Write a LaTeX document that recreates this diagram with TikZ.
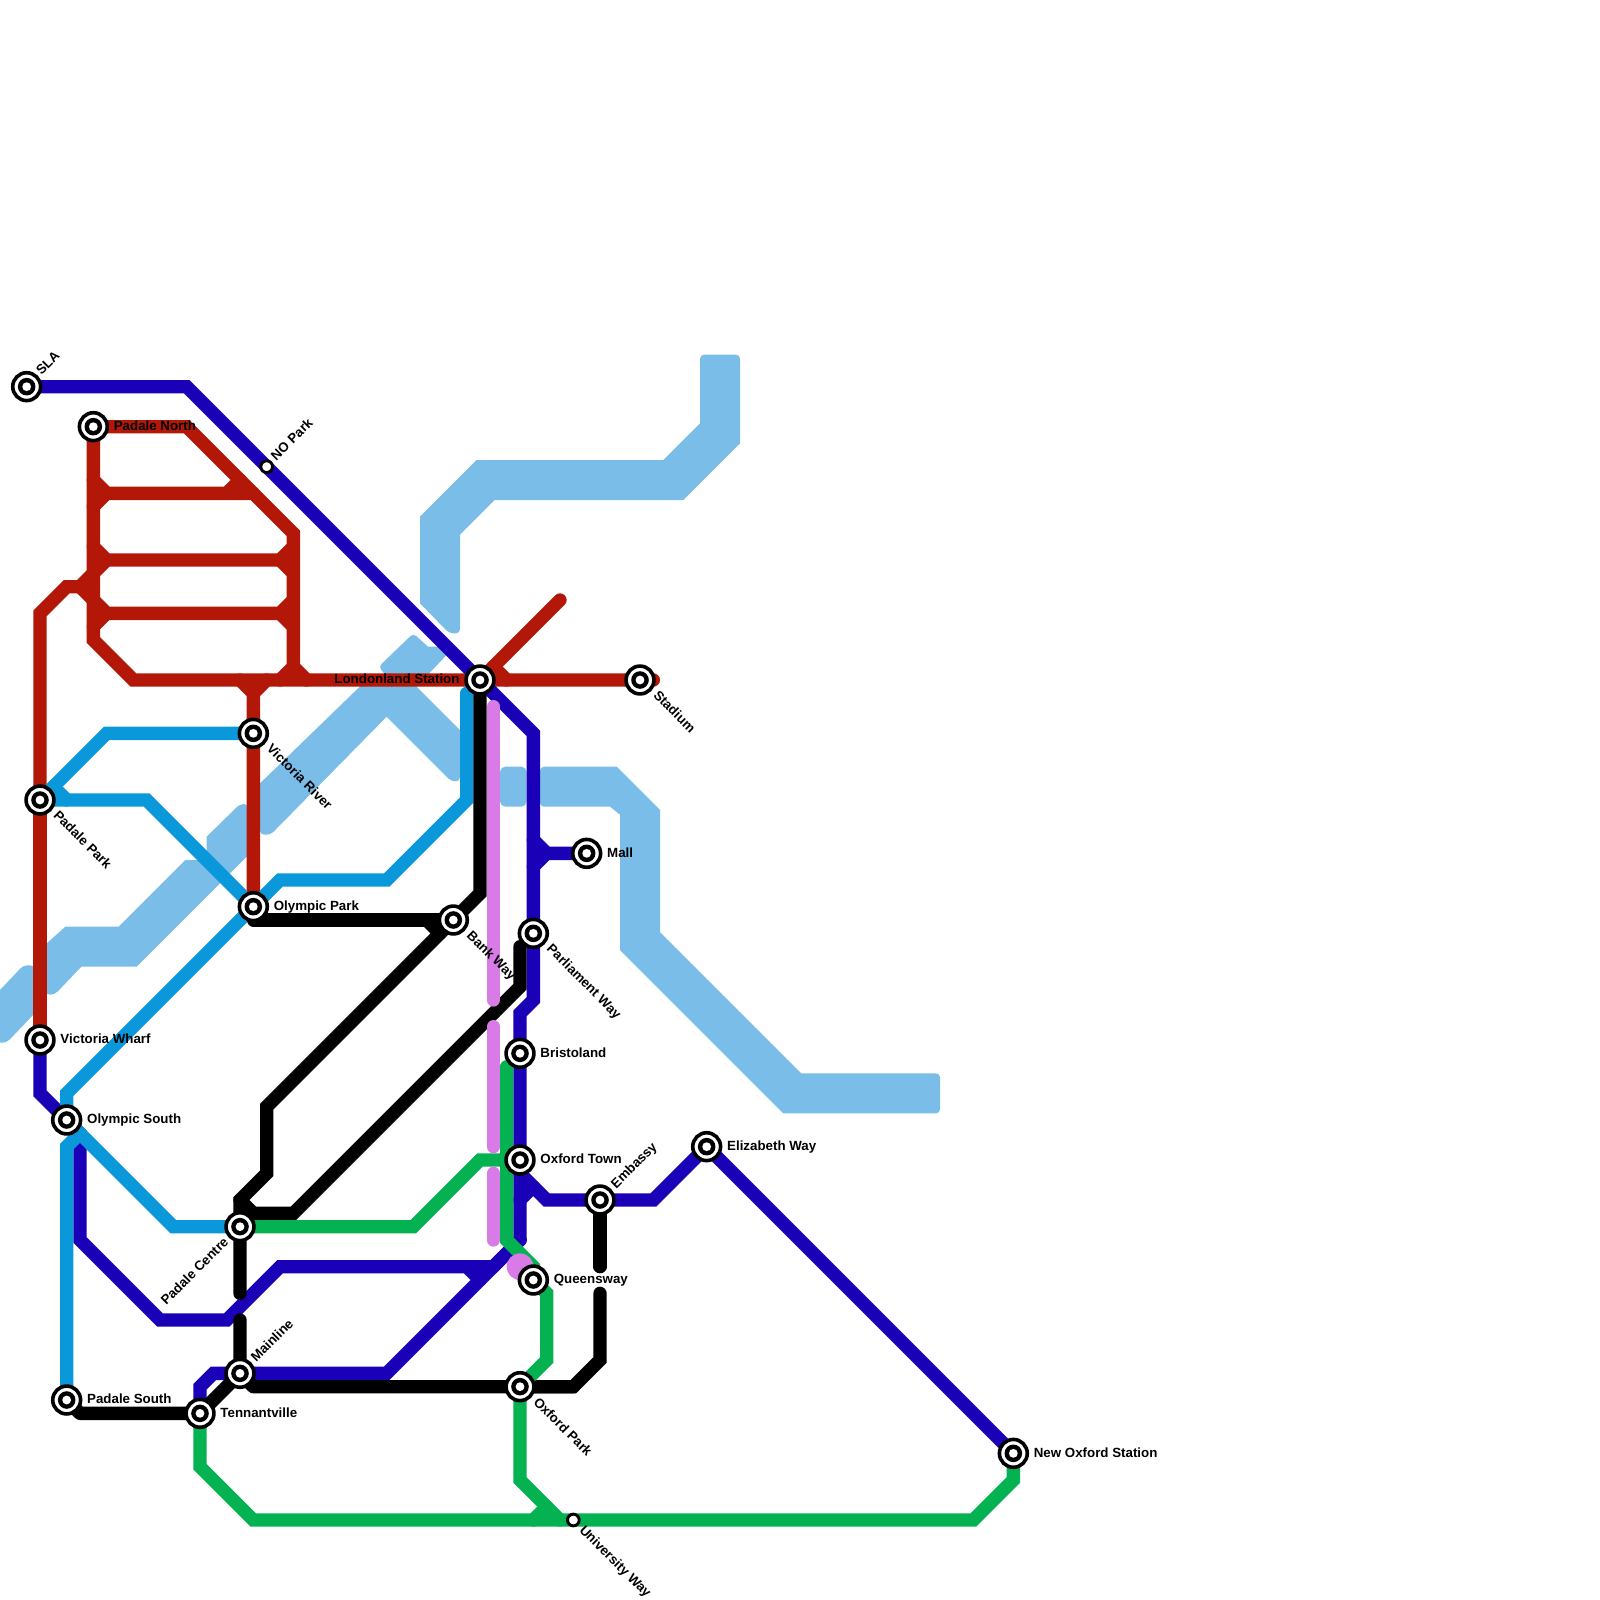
\documentclass[tikz,border=0pt]{standalone}
\usepackage{fontspec}
\setmainfont{Liberation Sans}
\usepackage{xcolor}
\usetikzlibrary{positioning, calc, backgrounds}
\definecolor{mred}{HTML}{B21707}
\definecolor{mindigo}{HTML}{1A00B6}
\definecolor{mcyan}{HTML}{0A98DA}
\definecolor{mgreen}{HTML}{05B252}
\definecolor{mpink}{HTML}{D97BE6}
\definecolor{mriver}{HTML}{7ABDE9}
\tikzset{
  stn/.style={circle, draw=black, fill=white, line width=0.081cm, minimum size=0.627cm, inner sep=0pt,
              path picture={\fill[black] (path picture bounding box.center) circle (0.66);
                            \fill[white] (path picture bounding box.center) circle (0.33);}},
  stnsmall/.style={circle, draw=black, fill=white, line width=0.066cm, minimum size=0.264cm, inner sep=0pt},
  lbl/.style={font=\fontsize{8.53}{10}\selectfont\bfseries, text=black, inner sep=0pt, text height=1.45ex, text depth=0.5ex},
  lbldown/.style={lbl, rotate=-45, anchor=west},
  lblup/.style={lbl, rotate=45, anchor=west},
  lblleft/.style={lbl, rotate=45, anchor=east},
  mline/.style={line width=0.3cm, line cap=round, line join=miter},
  redline/.style={mline, mred},
  indigoline/.style={mline, mindigo},
  cyanline/.style={mline, mcyan},
  blackline/.style={mline, black},
  greenline/.style={mline, mgreen},
  pinkline/.style={mline, mpink},
  water/.style={fill=mriver},
  soft/.style={rounded corners=0.9mm},
}
\begin{document}
\begin{tikzpicture}[x=0.3cm, y=-0.3cm]
  \useasboundingbox (0,0) rectangle (120,120);

  \node[stn] (sla) at (2,29) {};
  \node[stn] (pnorth) at (7,32) {};
  \node[stnsmall] (nopark) at (20,35) {};
  \node[stn] (london) at (36,51) {};
  \node[stn] (stadium) at (48,51) {};
  \node[stn] (vriver) at (19,55) {};
  \node[stn] (ppark) at (3,60) {};
  \node[stn] (opark) at (19,68) {};
  \node[stn] (bank) at (34,69) {};
  \node[stn] (mall) at (44,64) {};
  \node[stn] (parl) at (40,70) {};
  \node[stn] (vwharf) at (3,78) {};
  \node[stn] (bristol) at (39,79) {};
  \node[stn] (osouth) at (5,84) {};
  \node[stn] (elizabeth) at (53,86) {};
  \node[stn] (oxtown) at (39,87) {};
  \node[stn] (embassy) at (45,90) {};
  \node[stn] (pcentre) at (18,92) {};
  \node[stn] (queens) at (40,96) {};
  \node[stn] (mainline) at (18,103) {};
  \node[stn] (oxpark) at (39,104) {};
  \node[stn] (psouth) at (5,105) {};
  \node[stn] (tennant) at (15,106) {};
  \node[stn] (newox) at (76,109) {};
  \node[stnsmall] (univ) at (43,114) {};

  \node[lblup] (slal) at ($(sla)+(0.9,-1)$) {SLA};
  \node[lbl, right=0.1cm of pnorth] (pnorthl) {Padale North};
  \node[lblup] (noparkl) at ($(nopark)+(0.5,-0.6)$) {NO Park};
  \node[lbl, left=0.1cm of london] (londonl) {Londonland Station};
  \node[lbldown] (stadiuml) at ($(stadium)+(1.15,1)$) {Stadium};
  \node[lbldown] (vriverl) at ($(vriver)+(1.15,1)$) {Victoria River};
  \node[lbldown] (pparkl) at ($(ppark)+(1.15,1)$) {Padale Park};
  \node[lbl, right=0.1cm of opark] (oparkl) {Olympic Park};
  \node[lbldown] (bankl) at ($(bank)+(1.15,1)$) {Bank Way};
  \node[lbl, right=0.1cm of mall] (malll) {Mall};
  \node[lbldown] (parll) at ($(parl)+(1.15,1)$) {Parliament Way};
  \node[lbl, right=0.1cm of vwharf] (vwharfl) {Victoria Wharf};
  \node[lbl, right=0.1cm of bristol] (bristoll) {Bristoland};
  \node[lbl, right=0.1cm of osouth] (osouthl) {Olympic South};
  \node[lbl, right=0.1cm of elizabeth] (elizabethl) {Elizabeth Way};
  \node[lbl, right=0.1cm of oxtown] (oxtownl) {Oxford Town};
  \node[lblup] (embassyl) at ($(embassy)+(1,-1)$) {Embassy};
  \node[lblleft] (pcentrel) at ($(pcentre)+(-1,1)$) {Padale Centre};
  \node[lbl, right=0.1cm of queens] (queensl) {Queensway};
  \node[lblup] (mainlinel) at ($(mainline)+(1,-1)$) {Mainline};
  \node[lbldown] (oxparkl) at ($(oxpark)+(1.15,1)$) {Oxford Park};
  \node[lbl, right=0.1cm of psouth] (psouthl) {Padale South};
  \node[lbl, right=0.1cm of tennant] (tennantl) {Tennantville};
  \node[lbl, right=0.1cm of newox] (newoxl) {New Oxford Station};
  \node[lbldown] (univl) at ($(univ)+(0.6,0.6)$) {University Way};

  \begin{scope}[on background layer]
    % river
    \fill[water] (52.5,31.75) [soft] -- (52.5,26.6) -- (55.5,26.6) [sharp corners] -- (55.5,33.25) -- (51.25,37.5) -- (37.1,37.5) -- (34.5,40.1) [soft] -- (34.5,47.5) -- (33.7,47.5) [sharp corners] -- (31.5,45.25) -- (31.5,38.75) -- (35.75,34.5) -- (49.75,34.5) -- cycle;
    \fill[water] (19.5,58.75) -- (27.5,51) -- (29.2,51) [soft] -- (28.4,50) -- (31,47.5) [sharp corners] -- (32.1,48.5) -- (33.7,48.5) -- (33.7,48.9) -- (31.25,51.5) -- (34.5,54.75) [soft] -- (34.5,58.6) -- (33.85,58.6) [sharp corners] -- (29,53.75) [soft] -- (20.3,62.6) -- (19.5,62.6) [sharp corners] -- cycle;
    \fill[water] (15.5,62.75) [soft] -- (18,60.3) -- (18.6,60.3) [sharp corners] -- (18.6,64.15) -- (10.25,72.5) -- (6.1,72.5) [soft] -- (4.1,74.6) -- (3.4,74.6) [sharp corners] -- (3.4,70.85) -- (4.9,69.5) -- (8.9,69.5) -- (13.9,64.5) -- (15.5,64.5) -- cycle;
    \fill[water] (0,74.25) [soft] -- (1.75,72.4) -- (2.6,72.4) [sharp corners] -- (2.6,76) [soft] -- (0.5,78.2) [sharp corners] -- (0,78.2) -- cycle;
    \fill[water, rounded corners=1.2mm] (37.5,57.5) rectangle (39.5,60.5);
    \fill[water] (46.25,57.5) -- (49.5,60.75) -- (49.5,69.9) -- (60.1,80.5) [soft] -- (70.5,80.5) -- (70.5,83.5) [sharp corners] -- (58.75,83.5) -- (46.5,71.25) -- (46.5,61.1) -- (45.75,60.5) [soft] -- (40.5,60.5) -- (40.5,57.5) [sharp corners] -- cycle;

    % red
    \draw[redline] (ppark.center) -- (vwharf.center);
    \draw[redline] (ppark.center) -- (3,46) -- (5,44) -- (6,44) -- (7,43);
    \draw[redline] (6,44) -- (7,45);
    \draw[redline] (pnorth.center) -- (7,48) -- (10,51) -- (49,51);
    \draw[redline] (pnorth.center) -- (14,32) -- (22,40) -- (22,50) -- (21,51);
    \draw[redline] (22,50) -- (23,51);
    \draw[redline] (7,36) -- (8,37) -- (19,37);
    \draw[redline] (7,38) -- (8,37);
    \draw[redline] (17,37) -- (18,36);
    \draw[redline] (7,41) -- (8,42) -- (21,42) -- (22,41);
    \draw[redline] (7,43) -- (8,42);
    \draw[redline] (21,42) -- (22,43);
    \draw[redline] (7,45) -- (8,46) -- (21,46) -- (22,45);
    \draw[redline] (7,47) -- (8,46);
    \draw[redline] (21,46) -- (22,47);
    \draw[redline] (18,51) -- (19,52) -- (opark.center);
    \draw[redline] (20,51) -- (19,52);
    \draw[redline] (london.center) -- (42,45);
    \draw[redline] (37,50) -- (38,51);

    % indigo
    \draw[indigoline] (sla.center) -- (14,29) -- (london.center) -- (40,55) -- (40,75) -- (39,76) -- (39,93);
    \draw[indigoline] (40,63) -- (41,64) -- (mall.center);
    \draw[indigoline] (40,65) -- (41,64);
    \draw[indigoline] (39,88) -- (41,90) -- (49,90) -- (elizabeth.center) -- (newox.center);
    \draw[indigoline] (39,90) -- (40,89);
    \draw[indigoline] (vwharf.center) -- (3,82) -- (osouth.center) -- (6,85) -- (6,93) -- (12,99) -- (17,99) -- (21,95) -- (37,95) -- (39,93);
    \draw[indigoline] (35,95) -- (36,96);
    \draw[indigoline] (tennant.center) -- (15,104) -- (16,103) -- (29,103) -- (39,93);

    % cyan
    \draw[cyanline] (ppark.center) -- (8,55) -- (vriver.center);
    \draw[cyanline] (ppark.center) -- (11,60) -- (opark.center);
    \draw[cyanline] (4,59) -- (5,60);
    \draw[cyanline] (osouth.center) -- (5,82) -- (opark.center) -- (21,66) -- (29,66) -- (35,60) -- (35,52);
    \draw[cyanline] (osouth.center) -- (13,92) -- (pcentre.center);
    \draw[cyanline] (psouth.center) -- (5,86) -- (6,85);

    % black
    \draw[blackline] (london.center) -- (36,67) -- (bank.center) -- (20,83) -- (20,88) -- (18,90) -- (18,97);
    \draw[blackline, line join=round] (opark.center) -- (19,69) -- (bank.center);
    \draw[blackline] (32,69) -- (33,70);
    \draw[blackline] (18,90) -- (19,91) -- (22,91) -- (39,74) -- (39,71);
    \draw[blackline] (18,99) -- (mainline.center) -- (tennant.center);
    \draw[blackline, line join=round] (tennant.center) -- (6,106) -- (psouth.center);
    \draw[blackline, line join=round] (mainline.center) -- (19,104) -- (43,104);
    \draw[blackline] (oxpark.center) -- (43,104) -- (45,102) -- (45,97);
    \draw[blackline] (embassy.center) -- (45,95);

    % green
    \draw[greenline] (pcentre.center) -- (31,92) -- (36,87) -- (oxtown.center);
    \draw[greenline] (38,80) -- (38,93) -- (40,95) -- (queens.center) -- (41,97) -- (41,102) -- (oxpark.center);
    \draw[greenline] (oxpark.center) -- (39,111) -- (42,114);
    \draw[greenline] (40,114) -- (41,113);
    \draw[greenline] (tennant.center) -- (15,110) -- (19,114) -- (73,114) -- (76,111) -- (newox.center);

    % pink
    \draw[pinkline] (37,53) -- (37,75);
    \draw[pinkline] (37,77) -- (37,86);
    \draw[pinkline] (37,88) -- (37,93);
    \fill[mpink] (39,95) circle (1);
  \end{scope}
\end{tikzpicture}
\end{document}
